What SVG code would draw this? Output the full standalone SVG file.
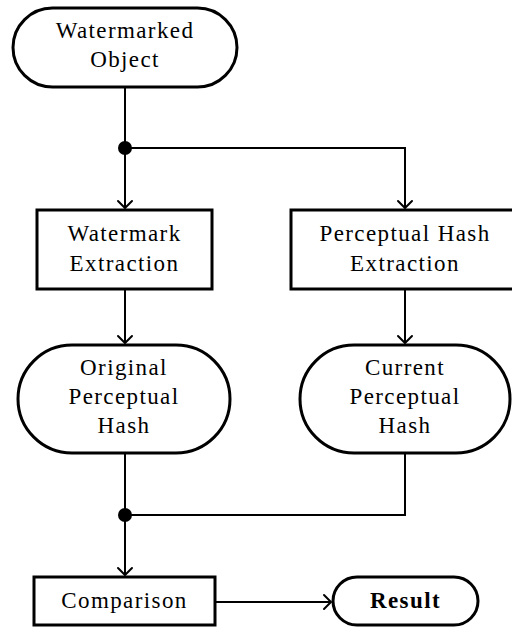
<svg xmlns="http://www.w3.org/2000/svg" width="512" height="628" viewBox="0 0 512 628">
  <style>
    .node { fill: #ffffff; stroke: #000000; stroke-width: 3; }
    .lbl { font-size: 23px; letter-spacing: 1.4px; fill: #000000; text-anchor: middle; }
    .bold { font-weight: bold; }
    .wire { fill: none; stroke: #000000; stroke-width: 2; }
    .arrow { fill: none; stroke: #000000; stroke-width: 2; marker-end: url(#tip); }
    .dot { fill: #000000; }
  </style>
  <defs>
    <marker id="tip" markerUnits="userSpaceOnUse" markerWidth="20" markerHeight="20" viewBox="-10 -10 20 20" refX="0" refY="0" orient="auto" overflow="visible">
      <path d="M -7 -7 Q -2 -2 0 0 Q -2 2 -7 7" fill="none" stroke="#000000" stroke-width="2" stroke-linecap="round"/>
    </marker>
  </defs>

  <rect width="512" height="628" fill="#ffffff"/>

  <!-- connectors -->
  <g id="connectors">
    <line class="wire" x1="125" y1="87" x2="125" y2="148"/>
    <line class="arrow" x1="125" y1="148" x2="125" y2="208"/>
    <path class="arrow" d="M 125 148 H 405 V 208"/>
    <line class="arrow" x1="125" y1="289" x2="125" y2="343"/>
    <line class="arrow" x1="405" y1="289" x2="405" y2="343"/>
    <line class="wire" x1="125" y1="453" x2="125" y2="515"/>
    <path class="wire" d="M 405 453 V 515 H 125"/>
    <line class="arrow" x1="125" y1="515" x2="125" y2="575"/>
    <line class="arrow" x1="215" y1="602" x2="331" y2="602"/>
    <circle class="dot" cx="125" cy="148" r="7"/>
    <circle class="dot" cx="125" cy="515" r="7"/>
  </g>

  <g font-family="Liberation Serif, DejaVu Serif, serif">
    <g id="watermarked-object">
      <rect class="node" x="13" y="8" width="224" height="79" rx="39.5" ry="39.5"/>
      <text class="lbl" x="125" y="38">Watermarked</text>
      <text class="lbl" x="125" y="67">Object</text>
    </g>

    <g id="watermark-extraction">
      <rect class="node" x="37" y="210" width="175" height="79"/>
      <text class="lbl" x="124.5" y="241">Watermark</text>
      <text class="lbl" x="124.5" y="271">Extraction</text>
    </g>

    <g id="perceptual-hash-extraction">
      <rect class="node" x="291" y="210" width="228" height="79"/>
      <text class="lbl" x="405" y="241">Perceptual Hash</text>
      <text class="lbl" x="405" y="271">Extraction</text>
    </g>

    <g id="original-hash">
      <rect class="node" x="18" y="345" width="212" height="108" rx="54" ry="54"/>
      <text class="lbl" x="124" y="375">Original</text>
      <text class="lbl" x="124" y="404">Perceptual</text>
      <text class="lbl" x="124" y="433">Hash</text>
    </g>

    <g id="current-hash">
      <rect class="node" x="300" y="345" width="210" height="108" rx="54" ry="54"/>
      <text class="lbl" x="405" y="375">Current</text>
      <text class="lbl" x="405" y="404">Perceptual</text>
      <text class="lbl" x="405" y="433">Hash</text>
    </g>

    <g id="comparison">
      <rect class="node" x="34" y="577" width="181" height="48"/>
      <text class="lbl" x="124.5" y="608">Comparison</text>
    </g>

    <g id="result">
      <rect class="node" x="333" y="577" width="145" height="48" rx="24" ry="24"/>
      <text class="lbl bold" x="405.5" y="608">Result</text>
    </g>
  </g>
</svg>
